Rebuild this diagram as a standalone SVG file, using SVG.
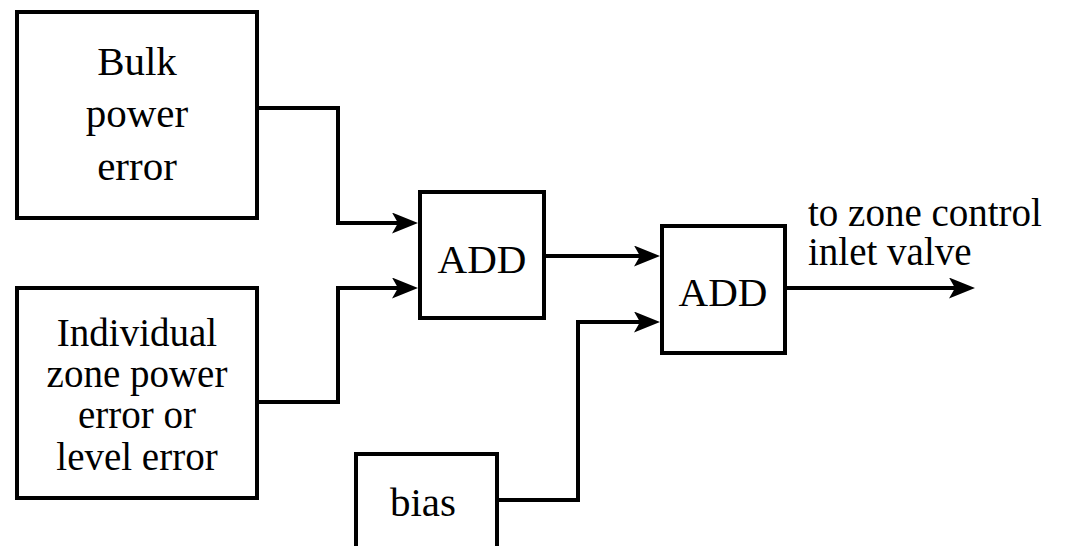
<svg xmlns="http://www.w3.org/2000/svg" width="1073" height="546" viewBox="0 0 1073 546">
<style>
.box{fill:#fff;stroke:#000;stroke-width:4}
text{fill:#000;font-family:'Liberation Serif','Times New Roman',serif}
.lbl{text-anchor:middle}
.wire{fill:none;stroke:#000;stroke-width:4;stroke-linejoin:miter}
</style>
<defs>
<marker id="arr" markerUnits="userSpaceOnUse" markerWidth="28" markerHeight="22" refX="6" refY="10.5" orient="auto" viewBox="0 0 28 22">
<path d="M0,0 L26,10.5 L0,21 L6,10.5 z" fill="#000"/>
</marker>
</defs>
<rect width="1073" height="546" fill="#fff"/>
<g font-size="41">
<g id="bulk">
<rect class="box" x="17" y="12" width="240" height="206"/>
<text class="lbl" x="137" y="75">Bulk</text>
<text class="lbl" x="137" y="127">power</text>
<text class="lbl" x="137" y="180">error</text>
</g>
<g id="individual" font-size="39">
<rect class="box" x="17" y="288" width="240" height="210"/>
<text class="lbl" x="137" y="346">Individual</text>
<text class="lbl" x="137" y="387">zone power</text>
<text class="lbl" x="137" y="428">error or</text>
<text class="lbl" x="137" y="470">level error</text>
</g>
<g id="add1">
<rect class="box" x="420" y="192" width="124" height="126"/>
<text class="lbl" x="482" y="273">ADD</text>
</g>
<g id="add2">
<rect class="box" x="662" y="226" width="123" height="127"/>
<text class="lbl" x="723" y="306">ADD</text>
</g>
<g id="bias">
<rect class="box" x="356" y="454" width="141" height="100"/>
<text class="lbl" x="423" y="516">bias</text>
</g>
<g id="output-label" font-size="39">
<text x="808" y="226">to zone control</text>
<text x="808" y="265">inlet valve</text>
</g>
</g>
<g id="connectors">
<path class="wire" d="M257,108 H338 V223 H398" marker-end="url(#arr)"/>
<path class="wire" d="M257,402 H338 V288 H398" marker-end="url(#arr)"/>
<path class="wire" d="M544,256 H640" marker-end="url(#arr)"/>
<path class="wire" d="M497,500 H578 V322 H640" marker-end="url(#arr)"/>
<path class="wire" d="M785,288 H955" marker-end="url(#arr)"/>
</g>
</svg>
